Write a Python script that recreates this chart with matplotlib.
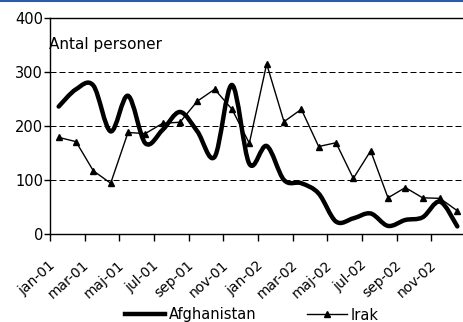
import numpy as np
import matplotlib
matplotlib.use("Agg")
import matplotlib.pyplot as plt
from matplotlib.path import Path
from matplotlib.patches import PathPatch
from matplotlib.lines import Line2D
import matplotlib.transforms as mtransforms

plt.rcParams["font.family"] = ["DejaVu Sans"]

months = ["jan-01", "feb-01", "mar-01", "apr-01", "maj-01", "jun-01",
          "jul-01", "aug-01", "sep-01", "okt-01", "nov-01", "dec-01",
          "jan-02", "feb-02", "mar-02", "apr-02", "maj-02", "jun-02",
          "jul-02", "aug-02", "sep-02", "okt-02", "nov-02", "dec-02"]
afghanistan = [236, 268, 275, 190, 256, 168, 193, 226, 190, 143, 276, 130,
               163, 100, 94, 75, 23, 29, 38, 15, 26, 31, 60, 14]
irak = [179, 171, 117, 94, 188, 186, 205, 207, 246, 268, 231, 168,
        315, 208, 231, 162, 169, 103, 154, 67, 86, 67, 66, 43]
yticks = [0, 100, 200, 300, 400]


def smooth_path(x, y):
    # Excel-style smoothed line: cubic bezier through every point
    x = np.asarray(x, float)
    y = np.asarray(y, float)
    n = len(x)
    verts = [(x[0], y[0])]
    codes = [Path.MOVETO]
    for i in range(n - 1):
        x0, y0 = (x[i - 1], y[i - 1]) if i > 0 else (x[i], y[i])
        x3, y3 = (x[i + 2], y[i + 2]) if i + 2 < n else (x[i + 1], y[i + 1])
        c1 = (x[i] + (x[i + 1] - x0) / 6, y[i] + (y[i + 1] - y0) / 6)
        c2 = (x[i + 1] - (x3 - x[i]) / 6, y[i + 1] - (y3 - y[i]) / 6)
        verts += [c1, c2, (x[i + 1], y[i + 1])]
        codes += [Path.CURVE4] * 3
    return Path(verts, codes)


W, H = 464, 322
fig = plt.figure(figsize=(W / 100, H / 100), dpi=100)
ax = fig.add_axes([50 / W, 88 / H, 416 / W, 216 / H])

pos = np.arange(len(months))

for v in yticks[1:-1]:
    ax.axhline(v, color="black", lw=0.72, ls=(0, (6, 3)), zorder=1)

ax.add_patch(PathPatch(smooth_path(pos, afghanistan), fill=False,
                       edgecolor="black", lw=3.2, capstyle="round",
                       joinstyle="round", zorder=3))
ax.plot(pos, irak, color="black", lw=1.0, marker="^", markersize=5,
        zorder=4)

ax.set_xlim(-0.5, len(months) - 0.5)
ax.set_ylim(0, 400)

# y axis
ax.set_yticks(yticks)
ax.tick_params(axis="y", direction="out", length=4, width=1, pad=1,
               labelsize=10.5)

# x axis: ticks at every second category boundary, labels on category
ax.set_xticks(np.arange(-0.5, len(months), 2))
ax.set_xticklabels([])
ax.tick_params(axis="x", which="major", direction="out", length=5, width=1)
ax.set_xticks(pos[::2], minor=True)
ax.set_xticklabels(months[::2], minor=True, rotation=42,
                   rotation_mode="anchor", ha="right", va="center")
ax.tick_params(axis="x", which="minor", length=0, pad=21, labelsize=10)
offset = mtransforms.ScaledTranslation(-6 / 100, 0, fig.dpi_scale_trans)
for lab in ax.get_xticklabels(minor=True):
    lab.set_transform(lab.get_transform() + offset)

for side in ["left", "bottom", "top"]:
    ax.spines[side].set_color("black")
    ax.spines[side].set_linewidth(1)
ax.spines["right"].set_visible(False)

fig.text(49 / W, 1 - 45 / H, "Antal personer", fontsize=11,
         ha="left", va="center")

handles = [Line2D([], [], color="black", lw=3.2),
           Line2D([], [], color="black", lw=1.0, marker="^", markersize=5)]
fig.legend(handles, ["Afghanistan", "Irak"], loc="center",
           bbox_to_anchor=(252 / W, 1 - 315 / H), ncol=2, frameon=False,
           fontsize=10.5, handlelength=2.7, handletextpad=0.27,
           columnspacing=3.5, borderpad=0)

# blue rule at the very top
fig.add_artist(Line2D([0, 1], [1 - 0.8 / H, 1 - 0.8 / H],
                      transform=fig.transFigure, color="#2a5caa", lw=1.5))

fig.savefig("out.png", dpi=100)
